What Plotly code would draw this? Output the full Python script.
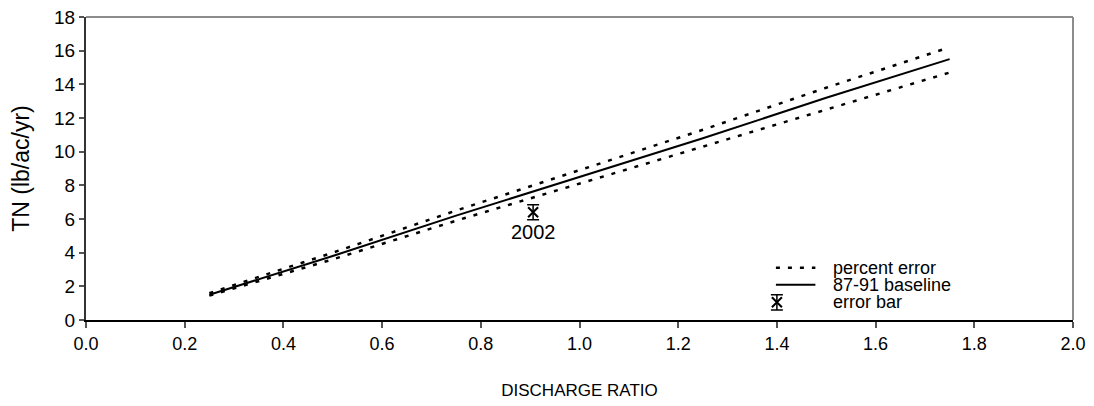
import plotly.graph_objects as go

# ---- data ----
discharge_ratio = [0.25, 0.5, 0.75, 1.0, 1.25, 1.5, 1.75]
baseline_tn = [1.5, 3.8, 6.2, 8.5, 10.8, 13.2, 15.5]
upper_pct_err = [1.6, 4.0, 6.5, 8.9, 11.3, 13.8, 16.2]
lower_pct_err = [1.45, 3.6, 5.9, 8.1, 10.3, 12.5, 14.7]

obs_x = [0.906]
obs_y = [6.4]
obs_err = [0.45]
obs_label = "2002"

legend_marker_x = [1.4]
legend_marker_y = [1.05]
legend_marker_err = [0.45]

x_ticks = [0.0, 0.2, 0.4, 0.6, 0.8, 1.0, 1.2, 1.4, 1.6, 1.8, 2.0]
y_ticks = [0, 2, 4, 6, 8, 10, 12, 14, 16, 18]

FONT = "Liberation Sans, Arial, sans-serif"
DASH = "4px,8px"

fig = go.Figure()

for ys in (upper_pct_err, lower_pct_err):
    fig.add_trace(go.Scatter(x=discharge_ratio, y=ys, mode="lines",
                             line=dict(color="black", width=2.5, dash=DASH),
                             showlegend=False, hoverinfo="skip"))

fig.add_trace(go.Scatter(x=discharge_ratio, y=baseline_tn, mode="lines",
                         line=dict(color="black", width=2),
                         showlegend=False))

for xs, ys, es in ((obs_x, obs_y, obs_err), (legend_marker_x, legend_marker_y, legend_marker_err)):
    fig.add_trace(go.Scatter(
        x=xs, y=ys, mode="markers",
        marker=dict(symbol="x-thin-open", size=10, color="black",
                    line=dict(color="black", width=2)),
        error_y=dict(type="data", array=es, visible=True, color="black",
                     thickness=1.5, width=6),
        showlegend=False))

# label for 2002 point
fig.add_annotation(x=obs_x[0], y=obs_y[0] - 1.15, text=obs_label, showarrow=False,
                   font=dict(family=FONT, size=20, color="black"),
                   xanchor="center", yanchor="middle")

# manual legend
fig.add_shape(type="line", xref="x", yref="y", x0=1.398, x1=1.478, y0=3.1, y1=3.1,
              line=dict(color="black", width=2.5, dash=DASH))
fig.add_shape(type="line", xref="x", yref="y", x0=1.398, x1=1.478, y0=2.1, y1=2.1,
              line=dict(color="black", width=2))
for txt, yv in (("percent error", 3.1), ("87-91 baseline", 2.1), ("error bar", 1.07)):
    fig.add_annotation(x=1.51, y=yv, text=txt, showarrow=False, xanchor="left",
                       yanchor="middle", font=dict(family=FONT, size=18, color="black"))

# gray top & right frame
fig.add_shape(type="line", xref="paper", yref="paper", x0=0, x1=1, y0=1, y1=1,
              line=dict(color="#8c8c8c", width=2))
fig.add_shape(type="line", xref="paper", yref="paper", x0=1, x1=1, y0=0, y1=1,
              line=dict(color="#8c8c8c", width=2))

fig.update_layout(
    width=1086, height=398,
    margin=dict(l=78, r=21, t=9, b=86),
    paper_bgcolor="white", plot_bgcolor="white",
    font=dict(family=FONT, size=18, color="black"),
    xaxis=dict(range=[0, 2.0], tickvals=x_ticks, ticktext=[f"{v:.1f}" for v in x_ticks],
               automargin=False, ticklabeloverflow="allow",
               showgrid=False, zeroline=False, showline=True, linecolor="black", linewidth=2,
               ticks="outside", ticklen=6, tickcolor="#555", tickwidth=2,
               title=dict(text="DISCHARGE RATIO", font=dict(size=17), standoff=32),
               tickfont=dict(size=18)),
    yaxis=dict(range=[0, 18], tickvals=y_ticks, automargin=False, ticklabeloverflow="allow",
               showgrid=False, zeroline=False, showline=True, linecolor="#333", linewidth=2,
               ticks="outside", ticklen=5, tickcolor="#555", tickwidth=2,
               title=dict(text="TN (lb/ac/yr)", font=dict(size=23), standoff=19),
               tickfont=dict(size=19)),
)

fig.write_html("out.html")
